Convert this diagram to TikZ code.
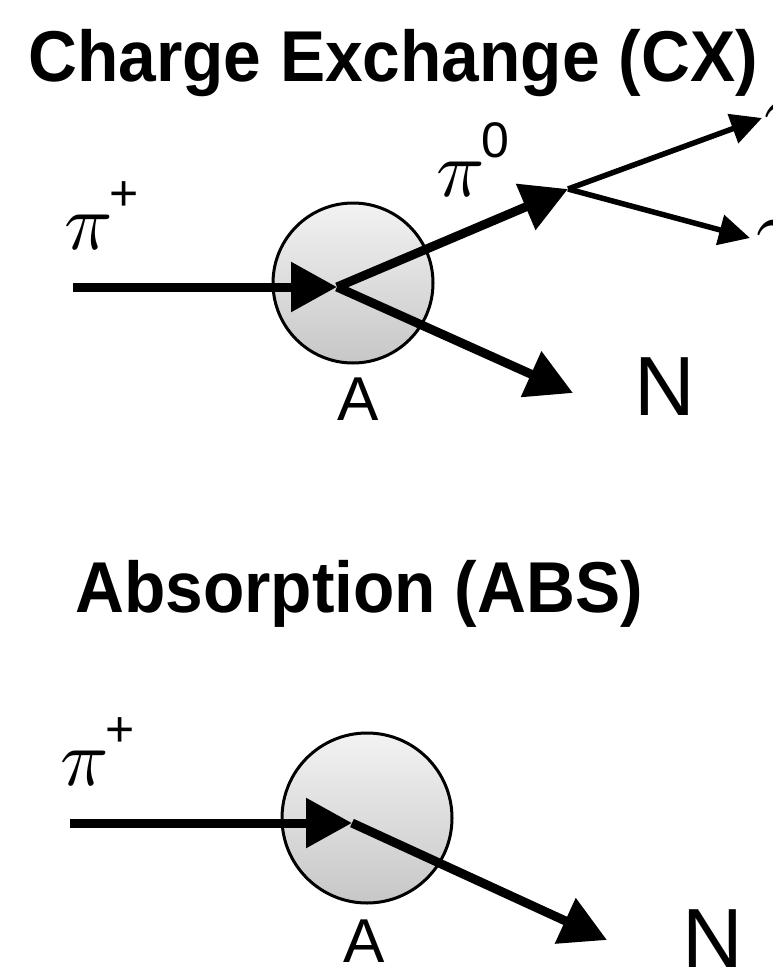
\documentclass[tikz,border=0pt]{standalone}
\usepackage{fontspec}
\setmainfont{Liberation Serif}
\setsansfont{Liberation Sans}
\newfontfamily\lmm{latinmodern-math.otf}
\usetikzlibrary{arrows.meta}
\begin{document}
\begin{tikzpicture}[x=1pt,y=-1pt,
  ttl/.style={font=\sffamily\bfseries\fontsize{72}{72}\selectfont, anchor=base west, inner sep=0pt},
  albl/.style={font=\sffamily\fontsize{62}{62}\selectfont, anchor=base, inner sep=0pt},
  nlbl/.style={font=\sffamily\fontsize{84}{84}\selectfont, anchor=base west, inner sep=0pt},
  pilbl/.style={font=\lmm\fontsize{80}{80}\selectfont, anchor=base west, inner sep=0pt},
  nucl/.style={circle, draw=black, line width=3pt, top color=black!5, bottom color=black!22, inner sep=0pt},
  track/.style={line width=9pt, -{Triangle[length=46pt,width=48pt]}},
  gtrack/.style={line width=5.5pt, -{Triangle[length=31pt,width=30pt]}},
]
\useasboundingbox (0,0) rectangle (773,979);
\fill[white] (0,0) rectangle (773,979);

\newcommand{\supsans}[1]{\raisebox{0.48em}{\sffamily\fontsize{50}{50}\selectfont #1}}

% ---------- Charge Exchange ----------
\node[ttl] (t1) at (28,82) {\scalebox{0.94}[1]{Charge Exchange (CX)}};

\node[nucl, minimum size=160pt] (nuc1) at (353,283) {};
\node[albl] (a1) at (358,420) {A};

\coordinate (in1) at (73,287);
\coordinate (v1) at (337,287);
\coordinate (g) at (568,189);
\coordinate (gt1) at (762,118);
\coordinate (gt2) at (750,238);
\coordinate (n1) at (573,393);

\draw[track] (in1) -- (v1);
\draw[track] (v1) -- (g);
\draw[track] (v1) -- (n1);
\draw[gtrack] (g) -- (gt1);
\draw[gtrack] (g) -- (gt2);

\node[pilbl] (pip1) at (64,249) {𝜋\supsans{+}};
\node[pilbl] (pi0) at (436,196) {𝜋\supsans{0}};
\node[pilbl] (gam1) at (764,138) {𝛾};
\node[pilbl] (gam2) at (756,255) {𝛾};
\node[nlbl] (nn1) at (634,415) {N};

% ---------- Absorption ----------
\node[ttl] (t2) at (75,612) {\scalebox{0.94}[1]{Absorption (ABS)}};

\node[nucl, minimum size=170pt] (nuc2) at (367,818) {};
\node[albl] (a2) at (364,962) {A};

\coordinate (in2) at (70,823);
\coordinate (v2) at (352,823);
\coordinate (n2) at (607,940);

\draw[track] (in2) -- (v2);
\draw[track] (v2) -- (n2);

\node[pilbl] (pip2) at (60,785) {𝜋\supsans{+}};
\node[nlbl] (nn2) at (682,967) {N};
\end{tikzpicture}
\end{document}
